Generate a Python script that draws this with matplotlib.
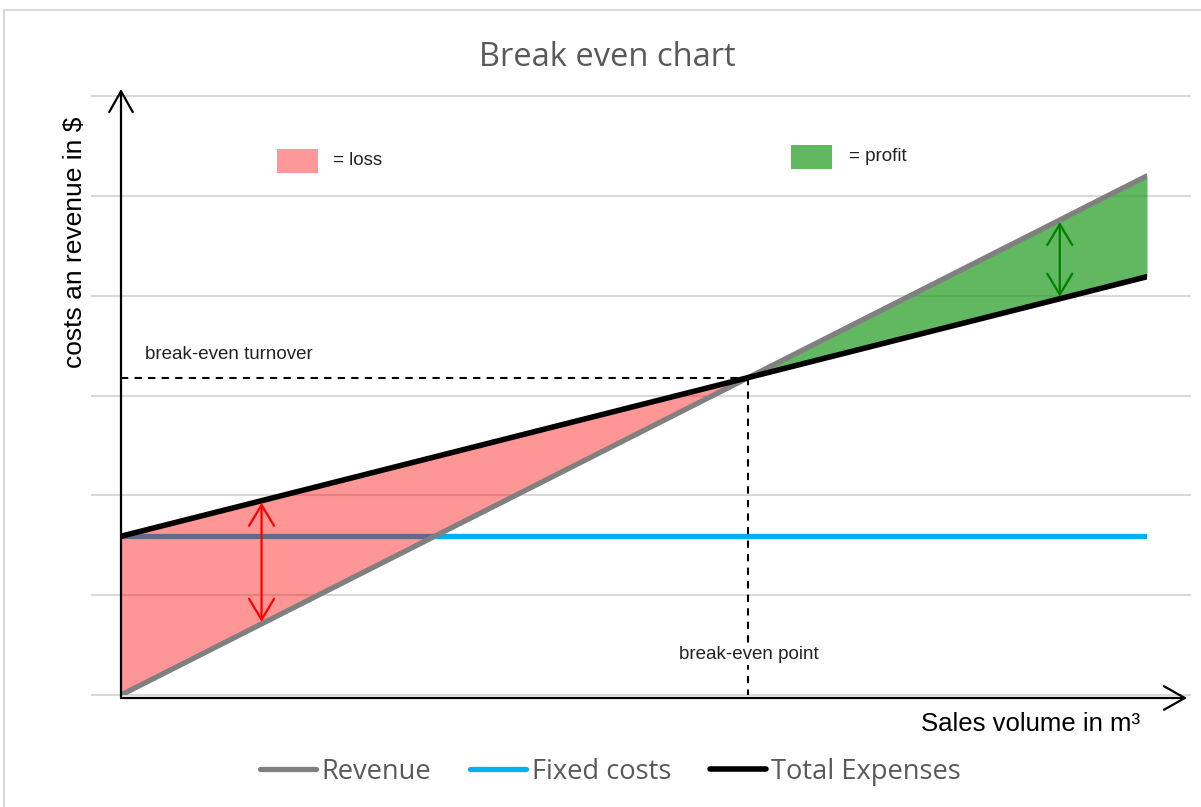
import numpy as np
import matplotlib
matplotlib.use('Agg')
import matplotlib.pyplot as plt
from matplotlib.lines import Line2D
from matplotlib.patches import Rectangle

# ---------------- data ----------------
volume = [0, 10]
revenue = [0, 5.20]
fixed_costs = [1.59, 1.59]
total_expenses = [1.59, 4.19]
grid_levels = [0, 1, 2, 3, 4, 5, 6]
series_labels = ['Revenue', 'Fixed costs', 'Total Expenses']
title_text = 'Break even chart'
loss_arrow_x = 1.37
profit_arrow_x = 9.15

# ---------------- colours ----------------
c_rev = '#808080'
c_fix = '#00b0f0'
c_tot = '#000000'
c_grid = '#d9d9d9'
c_title = '#595959'

W, H = 1201, 807
fig = plt.figure(figsize=(W / 100, H / 100), dpi=100)
ax = fig.add_axes([121 / W, 1 - 695 / H, 1026 / W, 599 / H])
ax.set_xlim(0, 10)
ax.set_ylim(0, 6)
ax.axis('off')

arial = ['Liberation Sans', 'DejaVu Sans']
calib = ['Open Sans', 'DejaVu Sans']

# figure border
fig.add_artist(Line2D([4 / W, 4 / W], [0, 1 - 10 / H], color=c_grid, lw=1.5))
fig.add_artist(Line2D([4 / W, 1], [1 - 10 / H, 1 - 10 / H], color=c_grid, lw=1.5))

# gridlines
for g in grid_levels:
    ax.plot([-0.283, 10.42], [g, g], color=c_grid, lw=1.5, clip_on=False, zorder=0)

# break-even
rev_slope = (revenue[1] - revenue[0]) / (volume[1] - volume[0])
tot_slope = (total_expenses[1] - total_expenses[0]) / (volume[1] - volume[0])
be_x = (total_expenses[0] - revenue[0]) / (rev_slope - tot_slope)
be_y = revenue[0] + rev_slope * be_x

# fixed cost line (under fill)
fix_line, = ax.plot(volume, fixed_costs, color=c_fix, lw=3.8, solid_capstyle='round',
                    zorder=1.5, label=series_labels[1])

# fills
xs_loss = np.array([volume[0], be_x])
ax.fill_between(xs_loss, np.interp(xs_loss, volume, revenue),
                np.interp(xs_loss, volume, total_expenses),
                color='red', alpha=0.41, lw=0, zorder=2)
xs_prof = np.array([be_x, volume[1]])
ax.fill_between(xs_prof, np.interp(xs_prof, volume, revenue),
                np.interp(xs_prof, volume, total_expenses),
                color='#2ca02c', alpha=0.75, lw=0, zorder=2)

rev_line, = ax.plot(volume, revenue, color=c_rev, lw=3.8, solid_capstyle='round',
                    zorder=3, label=series_labels[0])
tot_line, = ax.plot(volume, total_expenses, color=c_tot, lw=4.0, solid_capstyle='round',
                    zorder=3.1, label=series_labels[2])

# axes arrows
axis_y0 = -0.03
ap_axis = dict(arrowstyle='->,head_length=1.5,head_width=0.85', lw=1.6, color='black',
               shrinkA=0, shrinkB=0)
ax.annotate('', xy=(0, 6.07), xytext=(0, axis_y0), arrowprops=ap_axis,
            annotation_clip=False, zorder=5)
ax.annotate('', xy=(10.39, axis_y0), xytext=(0, axis_y0), arrowprops=ap_axis,
            annotation_clip=False, zorder=5)

# dashed break-even guides
dash = (0, (3.5, 3))
ax.plot([0, be_x], [be_y, be_y], ls=dash, color='black', lw=1.5, zorder=4)
ax.plot([be_x, be_x], [be_y, axis_y0], ls=dash, color='black', lw=1.5, zorder=4)

# double arrows
ap_red = dict(arrowstyle='<->,head_length=1.5,head_width=0.9', lw=1.6, color='red',
              shrinkA=1.5, shrinkB=1.5)
ax.annotate('', xy=(loss_arrow_x, np.interp(loss_arrow_x, volume, revenue)),
            xytext=(loss_arrow_x, np.interp(loss_arrow_x, volume, total_expenses)),
            arrowprops=ap_red, zorder=4)
ap_green = dict(ap_red, color='#008000')
ax.annotate('', xy=(profit_arrow_x, np.interp(profit_arrow_x, volume, revenue)),
            xytext=(profit_arrow_x, np.interp(profit_arrow_x, volume, total_expenses)),
            arrowprops=ap_green, zorder=4)

# manual key
ax.add_patch(Rectangle((1.52, 5.23), 0.40, 0.24, color='#ff9999', lw=0, zorder=3))
ax.text(2.07, 5.35, '= loss', fontsize=13.5, family=arial, va='center', ha='left', color='#222222')
ax.add_patch(Rectangle((6.53, 5.27), 0.40, 0.24, color='#61b861', lw=0, zorder=3))
ax.text(7.10, 5.39, '= profit', fontsize=13.5, family=arial, va='center', ha='left', color='#222222')

# annotations
ax.text(0.23, 3.41, 'break-even turnover', fontsize=13.5, family=arial, va='center',
        ha='left', color='#222222')
ax.text(be_x, 0.41, 'break-even point', fontsize=13.5, family=arial, va='center',
        ha='center', color='#222222', zorder=5,
        bbox=dict(facecolor='white', edgecolor='none', pad=2))

# axis labels
ax.text(9.93, -0.29, 'Sales volume in m³', fontsize=18.5, family=arial, va='center',
        ha='right', color='black', clip_on=False)
ax.text(-0.45, 4.535, 'costs an revenue in $', fontsize=19, family=arial, va='center',
        ha='center', rotation=90, color='black', clip_on=False)

# title
fig.text(607 / W, 1 - 57 / H, title_text, fontsize=23.5, family=calib, color=c_title,
         ha='center', va='center')

# legend
leg = fig.legend(handles=[rev_line, fix_line, tot_line], labels=series_labels,
                 loc='center', bbox_to_anchor=(610.5 / W, 1 - 772 / H), ncol=3,
                 frameon=False, prop={'family': calib, 'size': 19.6},
                 handlelength=2.06, handletextpad=0.2, columnspacing=1.43,
                 borderpad=0, borderaxespad=0)
for t in leg.get_texts():
    t.set_color(c_title)

fig.savefig('out.png', dpi=100)
